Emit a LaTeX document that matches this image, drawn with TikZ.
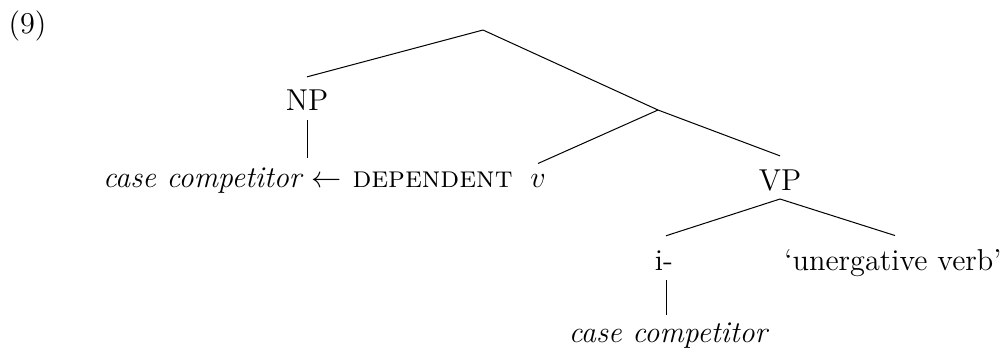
\documentclass[tikz,border=0pt]{standalone}
\usetikzlibrary{calc}
\begin{document}
\begin{tikzpicture}[x=0.397pt,y=-0.397pt,
  lab/.style={inner sep=0pt,anchor=base,font=\fontsize{12}{14.5}\selectfont},
  edge/.style={draw=black,line width=0.4pt}]
\useasboundingbox (0,0) rectangle (1002,356);
% labels
\node[lab,anchor=base west] (ex) at (8,33) {(9)};
\node[lab] (NP) at (307,110) {NP};
\node[lab,anchor=base east] (cc1) at (304,187) {\textit{case competitor}};
\node[lab] (arr) at (327,187) {$\leftarrow$};
\node[lab,anchor=base west] (dep) at (352,187) {\textsc{dependent}};
\node[lab] (v) at (538,187) {$v$};
\node[lab] (VP) at (780,190) {VP};
\node[lab] (i) at (664,270) {i-};
\node[lab] (unerg) at (893,270) {`unergative verb'};
\node[lab] (cc2) at (669,342) {\textit{case competitor}};
% tree joints
\coordinate (root) at (483,30);
\coordinate (vbar) at (658,110);
% connectors
\draw[edge] (root) -- ($(NP.north)+(0,-12)$);
\draw[edge] (root) -- (vbar);
\draw[edge] (vbar) -- ($(VP.north)+(0,-13)$);
\draw[edge] (vbar) -- ($(v.north)+(0,-10)$);
\draw[edge] ($(NP.base)+(0,10)$) -- ($(NP.base |- cc1.north)+(0,-9)$);
\draw[edge] ($(VP.base)+(0,9)$) -- ($(i.north)+(2,-14)$);
\draw[edge] ($(VP.base)+(0,9)$) -- ($(unerg.north)+(2,-13)$);
\draw[edge] ($(i.base)+(2,10)$) -- ($(i.base |- cc2.north)+(2,-7)$);
\end{tikzpicture}
\end{document}
